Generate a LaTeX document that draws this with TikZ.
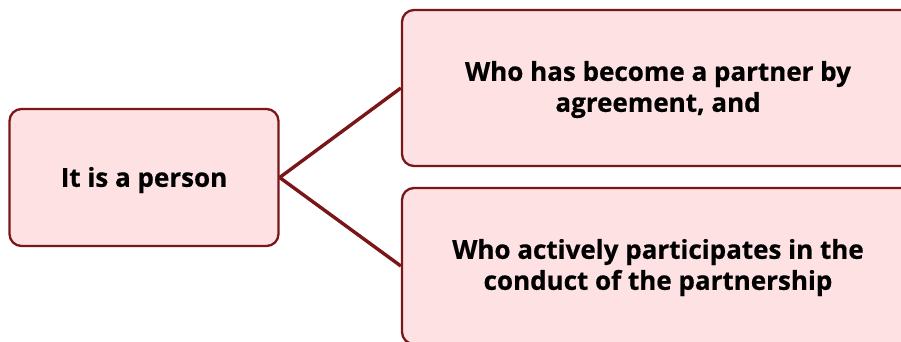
\documentclass[tikz,border=0pt]{standalone}
\usepackage{fontspec}
\setmainfont[BoldFeatures={FakeBold=0.6}]{Open Sans}
\definecolor{edge}{HTML}{7A1518}
\definecolor{boxfill}{HTML}{FDE1E3}
\tikzset{
  pbox/.style={draw=edge, line width=2.3pt, fill=boxfill, rounded corners=12pt,
    inner sep=0pt},
  txt/.style={inner sep=0pt, align=center, anchor=north, text height=18.6pt,
    font=\bfseries\fontsize{26}{31}\selectfont},
  link/.style={draw=edge, line width=3.4pt}
}
\begin{document}
\begin{tikzpicture}[x=1pt,y=-1pt]
\useasboundingbox (0,0) rectangle (901,342);
\clip (0,0) rectangle (901,342);
\node[pbox, minimum width=269pt, minimum height=137pt] (a) at (144,177.5) {};
\node[pbox, minimum width=512pt, minimum height=156pt] (b) at (658,88) {};
\node[pbox, minimum width=512pt, minimum height=156pt] (c) at (658,266) {};
% text height sets the top relative to the last line's baseline
\node[txt] (ta) at (144,168) {It is a person};
\node[txt] (tb) at (658,93) {Who has become a partner by\\agreement, and};
\node[txt] (tc) at (658,271) {Who actively participates in the\\conduct of the partnership};
\draw[link] (a.east) -- (b.west);
\draw[link] (a.east) -- (c.west);
\end{tikzpicture}
\end{document}
